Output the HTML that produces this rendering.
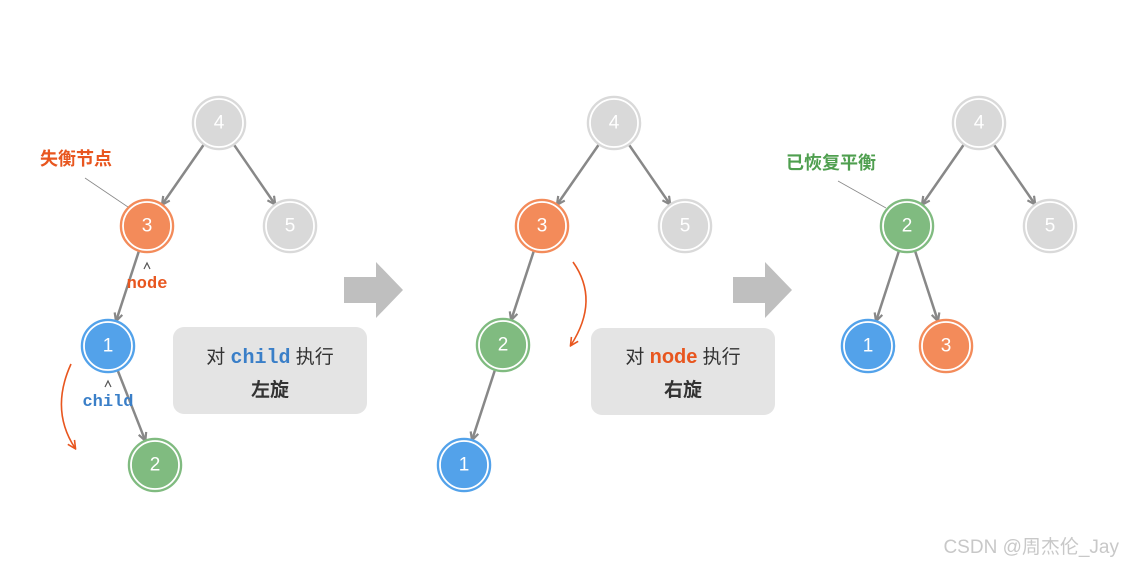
<!DOCTYPE html>
<html><head><meta charset="utf-8"><style>
html,body{margin:0;padding:0;background:#fff;}
svg{display:block;}
.n{font-family:"Liberation Sans","DejaVu Sans",sans-serif;font-size:19px;fill:#fff;text-anchor:middle;dominant-baseline:central;}
.e{stroke:#888;stroke-width:2.5;fill:none;marker-end:url(#ah);}
.cjk{font-family:"Liberation Sans","Noto Sans CJK SC",sans-serif;}
.mono{font-family:"Liberation Mono","DejaVu Sans Mono",monospace;font-weight:bold;}
</style></head><body>
<svg width="1123" height="565" viewBox="0 0 1123 565" xmlns="http://www.w3.org/2000/svg">
<defs>
<marker id="ah" markerWidth="10" markerHeight="10" refX="8" refY="5" orient="auto" markerUnits="userSpaceOnUse">
<path d="M1,1 L9,5 L1,9" fill="none" stroke="#888" stroke-width="2.2"/>
</marker>
<marker id="ar" markerWidth="10" markerHeight="10" refX="8" refY="5" orient="auto" markerUnits="userSpaceOnUse">
<path d="M1,1 L9,5 L1,9" fill="none" stroke="#e8561f" stroke-width="1.6"/>
</marker>
<g id="g"><circle r="26.5" fill="#d9d9d9" stroke="#d9d9d9" stroke-width="1.5"/><circle r="24" fill="none" stroke="#fff" stroke-width="1.8"/></g>
<g id="o"><circle r="26.5" fill="#f38b5a" stroke="#f38b5a" stroke-width="1.5"/><circle r="24" fill="none" stroke="#fff" stroke-width="1.8"/></g>
<g id="b"><circle r="26.5" fill="#53a2ea" stroke="#53a2ea" stroke-width="1.5"/><circle r="24" fill="none" stroke="#fff" stroke-width="1.8"/></g>
<g id="gr"><circle r="26.5" fill="#80bb80" stroke="#80bb80" stroke-width="1.5"/><circle r="24" fill="none" stroke="#fff" stroke-width="1.8"/></g>
</defs>

<!-- Panel 1 -->
<line class="e" x1="203.5" y1="145" x2="162.5" y2="204"/>
<line class="e" x1="234.3" y1="145.2" x2="274.7" y2="203.8"/>
<line class="e" x1="138.7" y1="251.7" x2="116.3" y2="320.3"/>
<line class="e" x1="117.9" y1="371" x2="145" y2="439.9"/>
<use href="#g" x="219" y="123"/><text class="n" x="219" y="123">4</text>
<use href="#o" x="147" y="226"/><text class="n" x="147" y="226">3</text>
<use href="#g" x="290" y="226"/><text class="n" x="290" y="226">5</text>
<use href="#b" x="108" y="346"/><text class="n" x="108" y="346">1</text>
<use href="#gr" x="155" y="465"/><text class="n" x="155" y="465">2</text>
<text class="cjk" x="40" y="165" font-size="18" font-weight="bold" fill="#e8561f">失衡节点</text>
<line x1="85" y1="178" x2="128" y2="207" stroke="#888" stroke-width="0.8"/>
<path d="M144,269 L147,263 L150,269" fill="none" stroke="#555" stroke-width="1.2"/>
<text class="mono" x="147" y="288" font-size="17" fill="#e8561f" text-anchor="middle">node</text>
<path d="M105,387 L108,381 L111,387" fill="none" stroke="#555" stroke-width="1.2"/>
<text class="mono" x="108" y="406" font-size="17" fill="#3a7fc8" text-anchor="middle">child</text>
<path d="M71,364 Q50,410 75,448" fill="none" stroke="#e8561f" stroke-width="1.6" marker-end="url(#ar)"/>
<rect x="173" y="327" width="194" height="87" rx="11" fill="#e4e4e4"/>
<text x="270" y="363" text-anchor="middle" font-size="19" fill="#333"><tspan class="cjk">对 </tspan><tspan class="mono" fill="#3a7fc8" font-size="20">child</tspan><tspan class="cjk"> 执行</tspan></text>
<text class="cjk" x="270" y="396" text-anchor="middle" font-size="19" font-weight="bold" fill="#333">左旋</text>

<path d="M344,277 H376 V262 L403,290 L376,318 V303 H344 Z" fill="#bfbfbf"/>

<!-- Panel 2 -->
<line class="e" x1="598.5" y1="145" x2="557.5" y2="204"/>
<line class="e" x1="629.3" y1="145.2" x2="669.7" y2="203.8"/>
<line class="e" x1="533.6" y1="251.7" x2="511.4" y2="319.3"/>
<line class="e" x1="494.7" y1="370.7" x2="472.3" y2="439.3"/>
<use href="#g" x="614" y="123"/><text class="n" x="614" y="123">4</text>
<use href="#o" x="542" y="226"/><text class="n" x="542" y="226">3</text>
<use href="#g" x="685" y="226"/><text class="n" x="685" y="226">5</text>
<use href="#gr" x="503" y="345"/><text class="n" x="503" y="345">2</text>
<use href="#b" x="464" y="465"/><text class="n" x="464" y="465">1</text>
<path d="M573,262 Q600,300 571,345" fill="none" stroke="#e8561f" stroke-width="1.6" marker-end="url(#ar)"/>
<rect x="591" y="328" width="184" height="87" rx="11" fill="#e4e4e4"/>
<text x="683" y="363" text-anchor="middle" font-size="19" fill="#333"><tspan class="cjk">对 </tspan><tspan class="cjk" font-weight="bold" fill="#e8561f" font-size="20">node</tspan><tspan class="cjk"> 执行</tspan></text>
<text class="cjk" x="683" y="396" text-anchor="middle" font-size="19" font-weight="bold" fill="#333">右旋</text>

<path d="M733,277 H765 V262 L792,290 L765,318 V303 H733 Z" fill="#bfbfbf"/>

<!-- Panel 3 -->
<line class="e" x1="963.5" y1="145" x2="922.5" y2="204"/>
<line class="e" x1="994.3" y1="145.2" x2="1034.7" y2="203.8"/>
<line class="e" x1="898.7" y1="251.7" x2="876.3" y2="320.3"/>
<line class="e" x1="915.3" y1="251.7" x2="937.7" y2="320.3"/>
<use href="#g" x="979" y="123"/><text class="n" x="979" y="123">4</text>
<use href="#gr" x="907" y="226"/><text class="n" x="907" y="226">2</text>
<use href="#g" x="1050" y="226"/><text class="n" x="1050" y="226">5</text>
<use href="#b" x="868" y="346"/><text class="n" x="868" y="346">1</text>
<use href="#o" x="946" y="346"/><text class="n" x="946" y="346">3</text>
<text class="cjk" x="786" y="169" font-size="18" font-weight="bold" fill="#4f9f4f">已恢复平衡</text>
<line x1="838" y1="181" x2="886" y2="208" stroke="#888" stroke-width="0.8"/>

<text class="cjk" x="1119" y="553" text-anchor="end" font-size="19" fill="#c8c8c8">CSDN @周杰伦_Jay</text>
</svg>
</body></html>
